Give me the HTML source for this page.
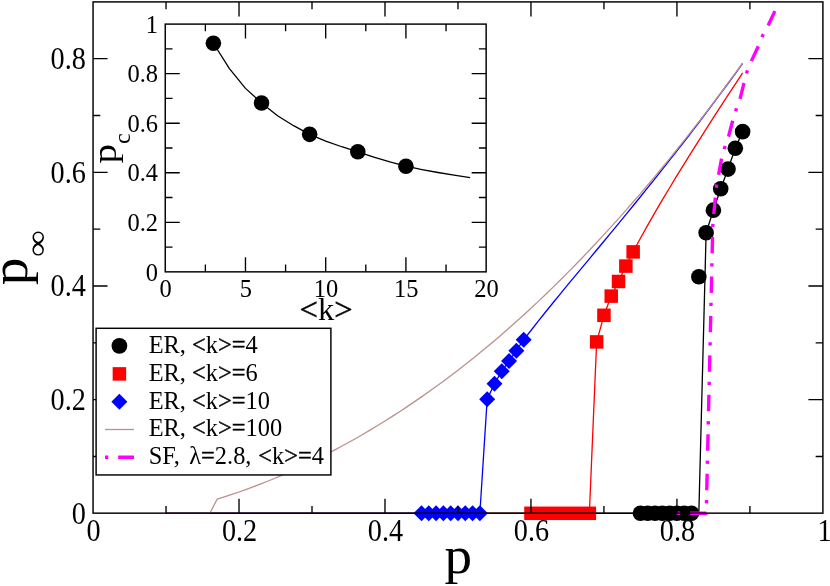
<!DOCTYPE html>
<html><head><meta charset="utf-8"><title>chart</title>
<style>html,body{margin:0;padding:0;background:#fff;}body{width:830px;height:586px;overflow:hidden;font-family:"Liberation Serif",serif;}svg{display:block;}svg text{filter:grayscale(1);}</style></head>
<body>
<svg width="830" height="586" viewBox="0 0 830 586">
<rect x="0" y="0" width="830" height="586" fill="#fff"/>
<g fill="none" stroke-linejoin="round">
<polyline points="166.03,513.3 698.83,513.3 706.12,232.79 713.42,210.17 720.72,188.69 728.02,169.08 735.32,148.28 742.62,131.63" stroke="#000" stroke-width="1.3"/>
<polyline points="166.03,513.3 589.35,513.3 596.65,341.9 603.94,315.3 611.24,296.1 618.54,281.49 625.84,266.09 633.14,251.88 640.44,238.2 647.74,225.11 655.03,212.38 662.33,199.93 669.63,187.71 676.93,175.69 684.23,163.84 691.53,152.13 698.83,140.54 706.12,129.07 713.42,117.69 720.72,106.4 728.02,95.19 735.32,84.04 742.62,72.95" stroke="#f00" stroke-width="1.3"/>
<polyline points="166.03,513.3 479.87,513.3 487.17,399.36 494.47,383.67 501.77,371.22 509.06,360.94 516.36,350.71 523.66,339.63 530.96,330.5 538.26,321.16 545.56,312.01 552.86,302.99 560.15,294.06 567.45,285.2 574.75,276.39 582.05,267.6 589.35,258.82 596.65,250.04 603.95,241.24 611.24,232.42 618.54,223.56 625.84,214.67 633.14,205.73 640.44,196.73 647.74,187.69 655.03,178.58 662.33,169.41 669.63,160.17 676.93,150.86 684.23,141.48 691.53,132.02 698.83,122.48 706.12,112.86 713.42,103.16 720.72,93.38 728.02,83.5 735.32,73.54 742.62,63.49" stroke="#00f" stroke-width="1.3"/>
<polyline points="166.03,513.3 209.83,513.3 217.12,499.21 224.42,496.88 231.72,494.49 239.02,491.99 246.32,489.37 253.62,486.7 260.92,483.92 268.21,481.02 275.51,478.01 282.81,474.94 290.11,471.76 297.41,468.46 304.71,465.05 312.01,461.53 319.3,457.95 326.6,454.25 333.9,450.45 341.2,446.52 348.5,442.55 355.8,438.45 363.09,434.25 370.39,429.93 377.69,425.5 384.99,421.01 392.29,416.4 399.59,411.69 406.89,406.86 414.18,401.91 421.48,396.91 428.78,391.74 436.08,386.51 443.38,381.17 450.68,375.71 457.98,370.15 465.27,364.46 472.57,358.67 479.87,352.76 487.17,346.79 494.47,340.65 501.77,334.4 509.06,328.03 516.36,321.56 523.66,314.96 530.96,308.2 538.26,301.38 545.56,294.45 552.86,287.4 560.15,280.18 567.45,272.91 574.75,265.46 582.05,257.96 589.35,250.29 596.65,242.56 603.95,234.66 611.24,226.65 618.54,218.58 625.84,210.34 633.14,201.99 640.44,193.57 647.74,184.99 655.03,176.3 662.33,167.49 669.63,158.57 676.93,149.53 684.23,140.44 691.53,131.18 698.83,121.8 706.12,112.31 713.42,102.7 720.72,92.99 728.02,83.15 735.32,73.21 742.62,63.15" stroke="#bc8f8f" stroke-width="1.3"/>
</g>
<g fill="#000">
<circle cx="640.44" cy="513.3" r="7.8"/>
<circle cx="647.74" cy="513.3" r="7.8"/>
<circle cx="655.03" cy="513.3" r="7.8"/>
<circle cx="662.33" cy="513.3" r="7.8"/>
<circle cx="669.63" cy="513.3" r="7.8"/>
<circle cx="676.93" cy="513.3" r="7.8"/>
<circle cx="684.23" cy="513.3" r="7.8"/>
<circle cx="691.53" cy="513.3" r="7.8"/>
<circle cx="698.83" cy="276.77" r="7.8"/>
<circle cx="706.12" cy="232.79" r="7.8"/>
<circle cx="713.42" cy="210.17" r="7.8"/>
<circle cx="720.72" cy="188.69" r="7.8"/>
<circle cx="728.02" cy="169.08" r="7.8"/>
<circle cx="735.32" cy="148.28" r="7.8"/>
<circle cx="742.62" cy="131.63" r="7.8"/>
</g>
<g fill="#f00">
<rect x="524.21" y="506.55" width="71.89" height="13.5"/>
<rect x="589.9" y="335.15" width="13.5" height="13.5"/>
<rect x="597.19" y="308.55" width="13.5" height="13.5"/>
<rect x="604.49" y="289.35" width="13.5" height="13.5"/>
<rect x="611.79" y="274.74" width="13.5" height="13.5"/>
<rect x="619.09" y="259.34" width="13.5" height="13.5"/>
<rect x="626.39" y="245.13" width="13.5" height="13.5"/>
</g>
<g fill="#00f">
<polygon points="413.48,513.3 421.48,505.3 429.48,513.3 421.48,521.3"/>
<polygon points="420.78,513.3 428.78,505.3 436.78,513.3 428.78,521.3"/>
<polygon points="428.08,513.3 436.08,505.3 444.08,513.3 436.08,521.3"/>
<polygon points="435.38,513.3 443.38,505.3 451.38,513.3 443.38,521.3"/>
<polygon points="442.68,513.3 450.68,505.3 458.68,513.3 450.68,521.3"/>
<polygon points="449.98,513.3 457.98,505.3 465.98,513.3 457.98,521.3"/>
<polygon points="457.27,513.3 465.27,505.3 473.27,513.3 465.27,521.3"/>
<polygon points="464.57,513.3 472.57,505.3 480.57,513.3 472.57,521.3"/>
<polygon points="471.87,513.3 479.87,505.3 487.87,513.3 479.87,521.3"/>
<polygon points="479.17,399.36 487.17,391.36 495.17,399.36 487.17,407.36"/>
<polygon points="486.47,383.67 494.47,375.67 502.47,383.67 494.47,391.67"/>
<polygon points="493.77,371.22 501.77,363.22 509.77,371.22 501.77,379.22"/>
<polygon points="501.06,360.94 509.06,352.94 517.06,360.94 509.06,368.94"/>
<polygon points="508.36,350.71 516.36,342.71 524.36,350.71 516.36,358.71"/>
<polygon points="515.66,339.63 523.66,331.63 531.66,339.63 523.66,347.63"/>
</g>
<polyline points="676.85,513.3 706.4,513.3 706.5,501.4 707.4,461.8 708.3,422.3 709.2,383.1 710.1,343.85 711,304.1 711.9,264.7 712.8,225.4 715.3,197.6 716.45,186.2 718.7,174.2 721.6,158.5 724.6,147.8 728.7,135.8 732.7,120.8 736.1,109.7 740.1,98.6 743.9,83.3 747,71.7 751.6,60.6 758.4,46.1 762.7,35.5 768.3,25.3 774.9,11.1" fill="none" stroke="#f0f" stroke-width="3.4" stroke-dasharray="3.29 9.87 16.45 9.87" stroke-linejoin="round"/>
<g stroke="#000" stroke-width="1.35" fill="none">
<path d="M166.03 513.15 v-7.25 M166.03 1.9 v7.25"/>
<path d="M239.02 513.15 v-14.5 M239.02 1.9 v14.5"/>
<path d="M312 513.15 v-7.25 M312 1.9 v7.25"/>
<path d="M384.99 513.15 v-14.5 M384.99 1.9 v14.5"/>
<path d="M457.98 513.15 v-7.25 M457.98 1.9 v7.25"/>
<path d="M530.96 513.15 v-14.5 M530.96 1.9 v14.5"/>
<path d="M603.94 513.15 v-7.25 M603.94 1.9 v7.25"/>
<path d="M676.93 513.15 v-14.5 M676.93 1.9 v14.5"/>
<path d="M749.91 513.15 v-7.25 M749.91 1.9 v7.25"/>
<path d="M93.05 456.47 h7.25 M822.9 456.47 h-7.25"/>
<path d="M93.05 399.64 h14.5 M822.9 399.64 h-14.5"/>
<path d="M93.05 342.81 h7.25 M822.9 342.81 h-7.25"/>
<path d="M93.05 285.98 h14.5 M822.9 285.98 h-14.5"/>
<path d="M93.05 229.15 h7.25 M822.9 229.15 h-7.25"/>
<path d="M93.05 172.32 h14.5 M822.9 172.32 h-14.5"/>
<path d="M93.05 115.49 h7.25 M822.9 115.49 h-7.25"/>
<path d="M93.05 58.66 h14.5 M822.9 58.66 h-14.5"/>
</g>
<rect x="93.05" y="1.9" width="729.85" height="511.25" fill="none" stroke="#000" stroke-width="1.45"/>
<g font-family='"Liberation Serif", serif' fill="#000">
<text transform="translate(93.55 540.9) scale(0.98 1.065)" font-size="28.8" text-anchor="middle">0</text>
<text transform="translate(239.52 540.9) scale(0.98 1.065)" font-size="28.8" text-anchor="middle">0.2</text>
<text transform="translate(385.49 540.9) scale(0.98 1.065)" font-size="28.8" text-anchor="middle">0.4</text>
<text transform="translate(531.46 540.9) scale(0.98 1.065)" font-size="28.8" text-anchor="middle">0.6</text>
<text transform="translate(677.43 540.9) scale(0.98 1.065)" font-size="28.8" text-anchor="middle">0.8</text>
<text transform="translate(824.6 540.9) scale(0.98 1.065)" font-size="28.8" text-anchor="middle">1</text>
<text transform="translate(85.9 523.7) scale(0.98 1.065)" font-size="28.8" text-anchor="end">0</text>
<text transform="translate(85.9 410.04) scale(0.98 1.065)" font-size="28.8" text-anchor="end">0.2</text>
<text transform="translate(85.9 296.38) scale(0.98 1.065)" font-size="28.8" text-anchor="end">0.4</text>
<text transform="translate(85.9 182.72) scale(0.98 1.065)" font-size="28.8" text-anchor="end">0.6</text>
<text transform="translate(85.9 69.06) scale(0.98 1.065)" font-size="28.8" text-anchor="end">0.8</text>
</g>
<g font-family='"Liberation Serif", serif' fill="#000">
<text transform="translate(458.3 572.7) scale(1.06 1.0)" font-size="52" text-anchor="middle">p</text>
</g>
<g transform="translate(26.8 285.2) rotate(-90)" font-family='"Liberation Serif", serif'>
<text transform="translate(0 0) scale(1.06 1.0)" font-size="52" text-anchor="start">p</text>
<text transform="translate(28.2 19.7) scale(1.0 0.8)" font-size="38" text-anchor="start">∞</text>
</g>
<rect x="165.25" y="24.1" width="320.9" height="247.75" fill="#fff"/>
<polyline points="213.38,43.23 229.43,68.7 245.47,88.39 261.52,102.96 277.56,115.77 293.61,125.68 309.65,134.35 325.7,141.04 341.75,146.74 357.79,151.77 373.83,157.02 389.88,161.85 405.92,166.21 421.97,169.53 438.01,172.5 454.06,175.23 470.1,177.71" fill="none" stroke="#000" stroke-width="1.3" stroke-linejoin="round"/>
<g fill="#000">
<circle cx="213.38" cy="43.23" r="7.8"/>
<circle cx="261.52" cy="102.96" r="7.8"/>
<circle cx="309.65" cy="134.35" r="7.8"/>
<circle cx="357.79" cy="151.77" r="7.8"/>
<circle cx="405.92" cy="166.21" r="7.8"/>
</g>
<g stroke="#000" stroke-width="1.35" fill="none">
<path d="M205.36 271.85 v-7.25 M205.36 24.1 v7.25"/>
<path d="M245.47 271.85 v-14.5 M245.47 24.1 v14.5"/>
<path d="M285.59 271.85 v-7.25 M285.59 24.1 v7.25"/>
<path d="M325.7 271.85 v-14.5 M325.7 24.1 v14.5"/>
<path d="M365.81 271.85 v-7.25 M365.81 24.1 v7.25"/>
<path d="M405.92 271.85 v-14.5 M405.92 24.1 v14.5"/>
<path d="M446.04 271.85 v-7.25 M446.04 24.1 v7.25"/>
<path d="M165.25 247.08 h7.25 M486.15 247.08 h-7.25"/>
<path d="M165.25 222.3 h14.5 M486.15 222.3 h-14.5"/>
<path d="M165.25 197.53 h7.25 M486.15 197.53 h-7.25"/>
<path d="M165.25 172.75 h14.5 M486.15 172.75 h-14.5"/>
<path d="M165.25 147.98 h7.25 M486.15 147.98 h-7.25"/>
<path d="M165.25 123.2 h14.5 M486.15 123.2 h-14.5"/>
<path d="M165.25 98.43 h7.25 M486.15 98.43 h-7.25"/>
<path d="M165.25 73.65 h14.5 M486.15 73.65 h-14.5"/>
<path d="M165.25 48.88 h7.25 M486.15 48.88 h-7.25"/>
</g>
<rect x="165.25" y="24.1" width="320.9" height="247.75" fill="none" stroke="#000" stroke-width="1.45"/>
<g font-family='"Liberation Serif", serif' fill="#000">
<text transform="translate(165.65 296.6) scale(1.02 1.05)" font-size="24" text-anchor="middle">0</text>
<text transform="translate(245.88 296.6) scale(1.02 1.05)" font-size="24" text-anchor="middle">5</text>
<text transform="translate(326.1 296.6) scale(1.02 1.05)" font-size="24" text-anchor="middle">10</text>
<text transform="translate(406.32 296.6) scale(1.02 1.05)" font-size="24" text-anchor="middle">15</text>
<text transform="translate(486.55 296.6) scale(1.02 1.05)" font-size="24" text-anchor="middle">20</text>
<text transform="translate(158 280.55) scale(1.02 1.05)" font-size="24" text-anchor="end">0</text>
<text transform="translate(158 231) scale(1.02 1.05)" font-size="24" text-anchor="end">0.2</text>
<text transform="translate(158 181.45) scale(1.02 1.05)" font-size="24" text-anchor="end">0.4</text>
<text transform="translate(158 131.9) scale(1.02 1.05)" font-size="24" text-anchor="end">0.6</text>
<text transform="translate(158 82.35) scale(1.02 1.05)" font-size="24" text-anchor="end">0.8</text>
<text transform="translate(158 32.8) scale(1.02 1.05)" font-size="24" text-anchor="end">1</text>
</g>
<text x="326" y="320.2" text-anchor="middle" font-family='"Liberation Serif", serif' font-size="32.5"><tspan stroke="#000" stroke-width="0.5">&lt;</tspan>k<tspan stroke="#000" stroke-width="0.5">&gt;</tspan></text>
<g transform="translate(115.5 163.6) rotate(-90)" font-family='"Liberation Serif", serif'>
<text transform="translate(0 0) scale(1.15 1.0)" font-size="34" text-anchor="start">p</text>
<text transform="translate(19.5 14.1) scale(1.0 1.0)" font-size="24" text-anchor="start">c</text>
</g>
<rect x="96.1" y="328.3" width="234.8" height="146.65" fill="#fff" stroke="#000" stroke-width="1.45"/>
<circle cx="119.4" cy="345.8" r="7.9" fill="#000"/>
<rect x="112.65" y="367.15" width="13.5" height="13.5" fill="#f00"/>
<polygon points="111.4,401.7 119.4,393.7 127.4,401.7 119.4,409.7" fill="#00f"/>
<path d="M105 429.5 H134" stroke="#bc8f8f" stroke-width="1.3"/>
<path d="M105 457.3 H134" stroke="#f0f" stroke-width="3.4" stroke-dasharray="3.29 9.87 16.45 9.87"/>
<g font-family='"Liberation Serif", serif' font-size="24.4" fill="#000">
<text x="148.7" y="353">ER, <tspan stroke="#000" stroke-width="0.4">&lt;</tspan>k<tspan stroke="#000" stroke-width="0.4">&gt;</tspan><tspan stroke="#000" stroke-width="0.4">=</tspan>4</text>
<text x="148.7" y="380.8">ER, <tspan stroke="#000" stroke-width="0.4">&lt;</tspan>k<tspan stroke="#000" stroke-width="0.4">&gt;</tspan><tspan stroke="#000" stroke-width="0.4">=</tspan>6</text>
<text x="148.7" y="408.6">ER, <tspan stroke="#000" stroke-width="0.4">&lt;</tspan>k<tspan stroke="#000" stroke-width="0.4">&gt;</tspan><tspan stroke="#000" stroke-width="0.4">=</tspan>10</text>
<text x="148.7" y="436.4">ER, <tspan stroke="#000" stroke-width="0.4">&lt;</tspan>k<tspan stroke="#000" stroke-width="0.4">&gt;</tspan><tspan stroke="#000" stroke-width="0.4">=</tspan>100</text>
<text x="148.7" y="464.2">SF, <tspan dx="3.2">λ</tspan><tspan stroke="#000" stroke-width="0.4">=</tspan>2.8, <tspan dx="0.8" stroke="#000" stroke-width="0.4">&lt;</tspan>k<tspan stroke="#000" stroke-width="0.4">&gt;</tspan><tspan stroke="#000" stroke-width="0.4">=</tspan>4</text>
</g>
</svg>
</body></html>
